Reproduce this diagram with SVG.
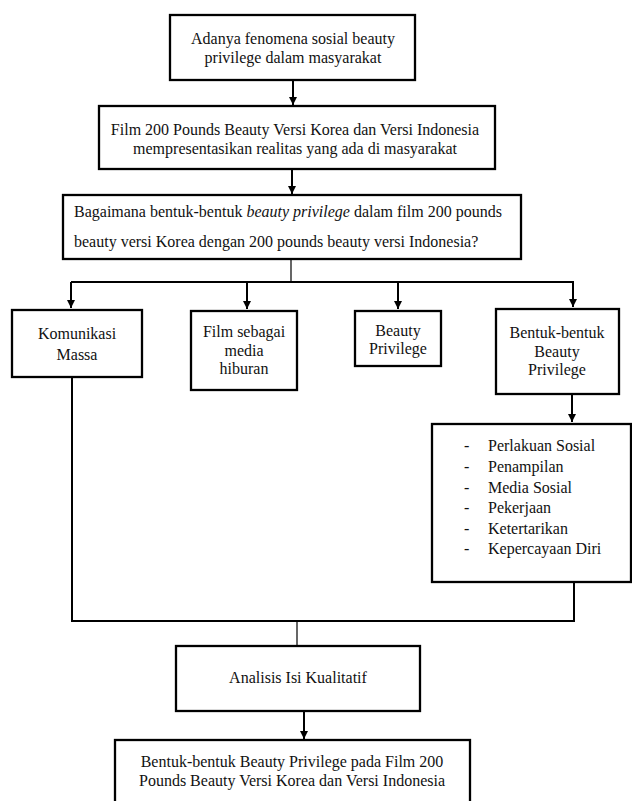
<svg xmlns="http://www.w3.org/2000/svg" width="632" height="801" viewBox="0 0 632 801">
<style>
.box{fill:#fff;stroke:#000;stroke-width:2.3}
text{font-family:'Liberation Serif','Times New Roman',Times,'DejaVu Serif',serif;font-size:16px;fill:#111}
.c{text-anchor:middle}
.ln{fill:none;stroke:#000;stroke-width:2}
.thin{fill:none;stroke:#000;stroke-width:1.2}
</style>
<defs>
<marker id="ah" viewBox="0 0 10 10" refX="10" refY="5" markerWidth="8" markerHeight="8" markerUnits="userSpaceOnUse" orient="auto">
<path d="M0,0 L10,5 L0,10 z" fill="#000"/>
</marker>
</defs>
<rect width="632" height="801" fill="#fff"/>
<g id="connectors">
<line class="ln" x1="293" y1="80" x2="293" y2="105" marker-end="url(#ah)"/>
<line class="ln" x1="292" y1="169" x2="292" y2="194" marker-end="url(#ah)"/>
<line class="thin" x1="291" y1="259" x2="291" y2="282"/>
<polyline class="ln" points="71,282 573,282"/>
<line class="ln" x1="71" y1="282" x2="71" y2="308" marker-end="url(#ah)"/>
<line class="ln" x1="247" y1="282" x2="247" y2="309" marker-end="url(#ah)"/>
<line class="ln" x1="398" y1="282" x2="398" y2="309" marker-end="url(#ah)"/>
<line class="ln" x1="573" y1="281" x2="573" y2="307" marker-end="url(#ah)"/>
<line class="ln" x1="572" y1="394" x2="572" y2="422" marker-end="url(#ah)"/>
<polyline class="ln" points="72,377 72,621 574,621 574,582"/>
<line class="thin" x1="297" y1="621" x2="297" y2="646"/>
<line class="ln" x1="304" y1="711" x2="304" y2="739" marker-end="url(#ah)"/>
</g>
<g id="n1">
<rect class="box" x="170" y="15" width="245" height="65"/>
<text class="c" x="293" y="44">Adanya fenomena sosial beauty</text>
<text class="c" x="293" y="63">privilege dalam masyarakat</text>
</g>
<g id="n2">
<rect class="box" x="99" y="106" width="396" height="63"/>
<text class="c" x="295" y="135">Film 200 Pounds Beauty Versi Korea dan Versi Indonesia</text>
<text class="c" x="295" y="154">mempresentasikan realitas yang ada di masyarakat</text>
</g>
<g id="n3">
<rect class="box" x="63" y="195" width="458" height="64"/>
<text x="74" y="217">Bagaimana bentuk-bentuk <tspan font-style="italic">beauty privilege</tspan> dalam film 200 pounds</text>
<text x="74" y="247">beauty versi Korea dengan 200 pounds beauty versi Indonesia?</text>
</g>
<g id="n4">
<rect class="box" x="12" y="310" width="130" height="67"/>
<text class="c" x="77" y="339">Komunikasi</text>
<text class="c" x="77" y="360">Massa</text>
</g>
<g id="n5">
<rect class="box" x="191" y="311" width="106" height="79"/>
<text class="c" x="244" y="337">Film sebagai</text>
<text class="c" x="244" y="356">media</text>
<text class="c" x="244" y="374">hiburan</text>
</g>
<g id="n6">
<rect class="box" x="355" y="311" width="86" height="55"/>
<text class="c" x="398" y="336">Beauty</text>
<text class="c" x="398" y="354">Privilege</text>
</g>
<g id="n7">
<rect class="box" x="496" y="309" width="123" height="85"/>
<text class="c" x="557" y="338">Bentuk-bentuk</text>
<text class="c" x="557" y="357">Beauty</text>
<text class="c" x="557" y="375">Privilege</text>
</g>
<g id="n8">
<rect class="box" x="432" y="424" width="199" height="158"/>
<text x="464" y="451">-</text><text x="488" y="451">Perlakuan Sosial</text>
<text x="464" y="472">-</text><text x="488" y="472">Penampilan</text>
<text x="464" y="493">-</text><text x="488" y="493">Media Sosial</text>
<text x="464" y="513">-</text><text x="488" y="513">Pekerjaan</text>
<text x="464" y="534">-</text><text x="488" y="534">Ketertarikan</text>
<text x="464" y="554">-</text><text x="488" y="554">Kepercayaan Diri</text>
</g>
<g id="n9">
<rect class="box" x="176" y="646" width="244" height="65"/>
<text class="c" x="298" y="683">Analisis Isi Kualitatif</text>
</g>
<g id="n10">
<rect class="box" x="115" y="740" width="355" height="64"/>
<text class="c" x="292" y="767">Bentuk-bentuk Beauty Privilege pada Film 200</text>
<text class="c" x="292" y="786">Pounds Beauty Versi Korea dan Versi Indonesia</text>
</g>
</svg>
